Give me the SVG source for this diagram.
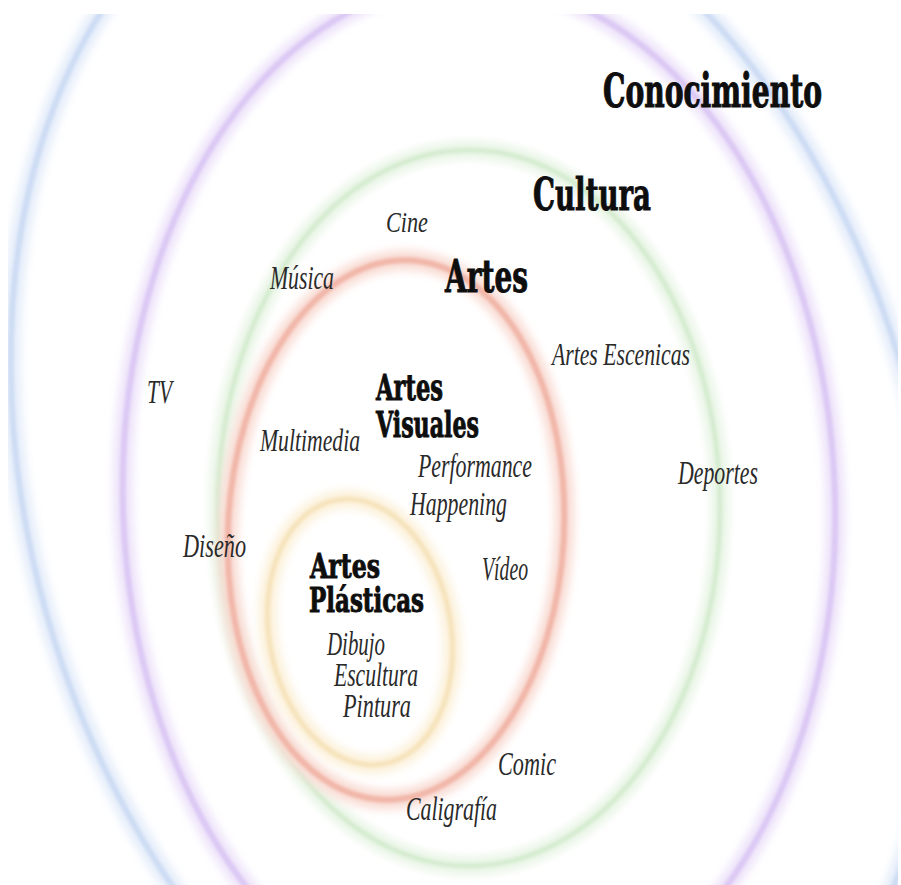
<svg xmlns="http://www.w3.org/2000/svg" width="901" height="885" viewBox="0 0 901 885">
<style>
.h{font-family:"DejaVu Serif Condensed","DejaVu Serif",serif;font-weight:bold;fill:#0e0e0e;stroke:#0e0e0e;stroke-width:0.9}
.it{font-family:"Liberation Serif","DejaVu Serif",serif;font-style:italic;fill:#2a2a2a}
.halo{fill:none;filter:url(#soft)}
.core{fill:none;filter:url(#thin)}
</style>
<defs>
<filter id="soft" x="-10%" y="-10%" width="120%" height="120%"><feGaussianBlur stdDeviation="4.5"/></filter>
<filter id="thin" x="-10%" y="-10%" width="120%" height="120%"><feGaussianBlur stdDeviation="1.8"/></filter>
<clipPath id="frame"><rect x="8" y="14" width="890" height="871"/></clipPath>
</defs>
<rect width="901" height="885" fill="#ffffff"/>
<g clip-path="url(#frame)">
<g id="ring-outer">
<ellipse class="halo" cx="475" cy="494" rx="445" ry="659" transform="rotate(-15.8 475 494)" stroke="#e6eefa" stroke-width="20"/>
<ellipse class="core" cx="475" cy="494" rx="445" ry="659" transform="rotate(-15.8 475 494)" stroke="#cddcf4" stroke-width="6"/>
</g>
<g id="ring-conocimiento">
<ellipse class="halo" cx="479" cy="502" rx="356" ry="521" transform="rotate(-2 479 502)" stroke="#eee4fa" stroke-width="20"/>
<ellipse class="core" cx="479" cy="502" rx="356" ry="521" transform="rotate(-2 479 502)" stroke="#dbc8f4" stroke-width="6"/>
</g>
<g id="ring-cultura">
<ellipse class="halo" cx="469" cy="508" rx="251" ry="358" stroke="#e9f5e6" stroke-width="18"/>
<ellipse class="core" cx="469" cy="508" rx="251" ry="358" stroke="#d5ecd0" stroke-width="5"/>
</g>
<g id="ring-artes">
<ellipse class="halo" cx="396" cy="530" rx="168" ry="270" transform="rotate(3 396 530)" stroke="#f9ddd5" stroke-width="20"/>
<ellipse class="core" cx="396" cy="530" rx="168" ry="270" transform="rotate(3 396 530)" stroke="#f1b6a8" stroke-width="6"/>
</g>
<g id="ring-plasticas">
<ellipse class="halo" cx="360" cy="632" rx="91" ry="134" transform="rotate(-10 360 632)" stroke="#fcf1da" stroke-width="18"/>
<ellipse class="core" cx="360" cy="632" rx="91" ry="134" transform="rotate(-10 360 632)" stroke="#f6e3bb" stroke-width="5"/>
</g>
</g>
<g id="conocimiento"><text class="h" x="603" y="0" font-size="40" transform="translate(0,107) scale(1,1.18)" textLength="219" lengthAdjust="spacingAndGlyphs">Conocimiento</text></g>
<g id="cultura"><text class="h" x="533" y="210" font-size="44" textLength="118" lengthAdjust="spacingAndGlyphs">Cultura</text></g>
<g id="artes"><text class="h" x="445" y="292" font-size="45" textLength="83" lengthAdjust="spacingAndGlyphs">Artes</text></g>
<g id="artes-visuales">
<text class="h" x="376" y="400" font-size="35" textLength="67" lengthAdjust="spacingAndGlyphs">Artes</text>
<text class="h" x="376" y="437" font-size="35" textLength="103" lengthAdjust="spacingAndGlyphs">Visuales</text>
</g>
<g id="artes-plasticas">
<text class="h" x="310" y="578" font-size="34" textLength="70" lengthAdjust="spacingAndGlyphs">Artes</text>
<text class="h" x="309" y="612" font-size="34" textLength="115" lengthAdjust="spacingAndGlyphs">Plásticas</text>
</g>
<g id="cine"><text class="it" x="386" y="232" font-size="30" textLength="42" lengthAdjust="spacingAndGlyphs">Cine</text></g>
<g id="musica"><text class="it" x="270" y="289" font-size="33" textLength="64" lengthAdjust="spacingAndGlyphs">Música</text></g>
<g id="tv"><text class="it" x="147" y="403" font-size="34" textLength="25" lengthAdjust="spacingAndGlyphs">TV</text></g>
<g id="artes-escenicas"><text class="it" x="552" y="365" font-size="32" textLength="138" lengthAdjust="spacingAndGlyphs">Artes Escenicas</text></g>
<g id="multimedia"><text class="it" x="260" y="451" font-size="32" textLength="100" lengthAdjust="spacingAndGlyphs">Multimedia</text></g>
<g id="performance"><text class="it" x="418" y="477" font-size="34" textLength="114" lengthAdjust="spacingAndGlyphs">Performance</text></g>
<g id="happening"><text class="it" x="410" y="515" font-size="34" textLength="97" lengthAdjust="spacingAndGlyphs">Happening</text></g>
<g id="deportes"><text class="it" x="678" y="484" font-size="33" textLength="80" lengthAdjust="spacingAndGlyphs">Deportes</text></g>
<g id="diseno"><text class="it" x="183" y="557" font-size="33" textLength="63" lengthAdjust="spacingAndGlyphs">Diseño</text></g>
<g id="video"><text class="it" x="482" y="580" font-size="33" textLength="46" lengthAdjust="spacingAndGlyphs">Vídeo</text></g>
<g id="dibujo"><text class="it" x="327" y="655" font-size="33" textLength="58" lengthAdjust="spacingAndGlyphs">Dibujo</text></g>
<g id="escultura"><text class="it" x="334" y="686" font-size="33" textLength="84" lengthAdjust="spacingAndGlyphs">Escultura</text></g>
<g id="pintura"><text class="it" x="343" y="717" font-size="33" textLength="68" lengthAdjust="spacingAndGlyphs">Pintura</text></g>
<g id="comic"><text class="it" x="498" y="775" font-size="33" textLength="58" lengthAdjust="spacingAndGlyphs">Comic</text></g>
<g id="caligrafia"><text class="it" x="406" y="820" font-size="33" textLength="91" lengthAdjust="spacingAndGlyphs">Caligrafía</text></g>
</svg>
